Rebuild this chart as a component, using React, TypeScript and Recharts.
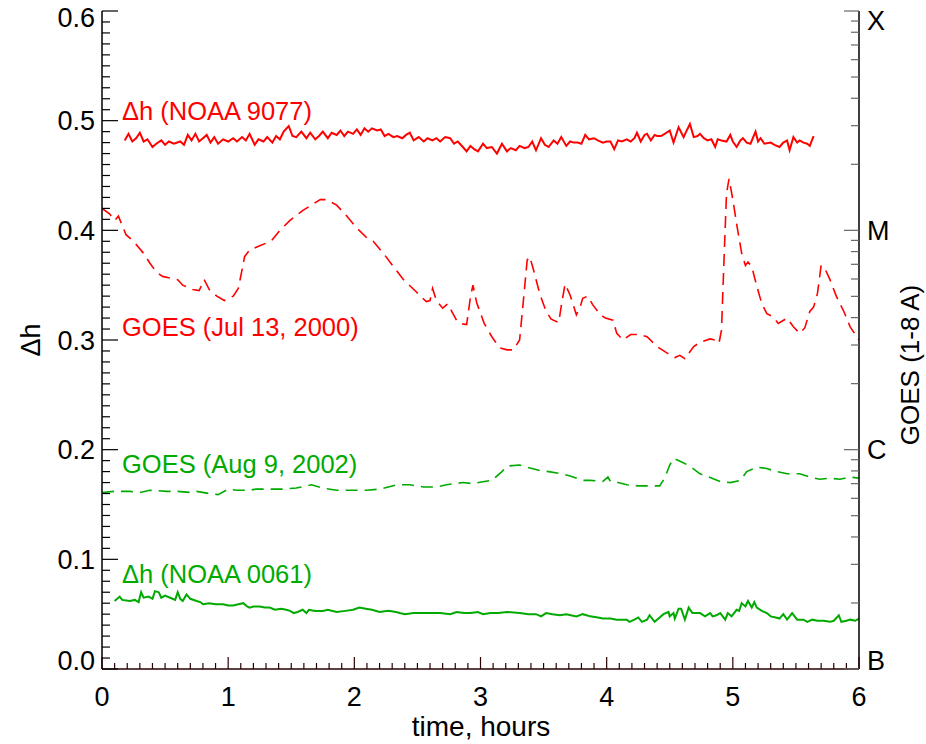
import { Line, LineChart, XAxis, YAxis } from "recharts"

const FONT = "'Liberation Sans', Arial, Helvetica, sans-serif"
const RED = "#ff0000"
const GREEN = "#00aa00"
const AXIS_DARK = "#2a0000"

// [time in hours, value]
const RED_DH: [number, number][] = [
  [0.18, 0.482], [0.21, 0.488], [0.24, 0.481], [0.27, 0.484], [0.3, 0.489], [0.33, 0.481], [0.36, 0.483],
  [0.4, 0.476], [0.43, 0.479], [0.47, 0.482], [0.5, 0.478], [0.53, 0.481], [0.57, 0.479], [0.62, 0.481],
  [0.65, 0.478], [0.68, 0.487], [0.71, 0.482], [0.74, 0.488], [0.77, 0.481], [0.8, 0.484], [0.83, 0.487],
  [0.86, 0.48], [0.89, 0.485], [0.92, 0.479], [0.96, 0.483], [1.0, 0.481], [1.04, 0.484], [1.07, 0.481],
  [1.11, 0.485], [1.14, 0.482], [1.17, 0.488], [1.21, 0.478], [1.24, 0.483], [1.28, 0.481], [1.31, 0.485],
  [1.35, 0.48], [1.38, 0.486], [1.41, 0.483], [1.44, 0.49], [1.48, 0.495], [1.51, 0.486], [1.54, 0.485],
  [1.58, 0.49], [1.62, 0.484], [1.65, 0.489], [1.69, 0.483], [1.72, 0.486], [1.75, 0.49], [1.79, 0.484],
  [1.82, 0.489], [1.86, 0.487], [1.89, 0.491], [1.92, 0.486], [1.95, 0.49], [1.99, 0.488], [2.02, 0.492],
  [2.05, 0.487], [2.08, 0.493], [2.11, 0.49], [2.14, 0.493], [2.18, 0.491], [2.21, 0.492], [2.24, 0.486],
  [2.27, 0.488], [2.31, 0.485], [2.34, 0.486], [2.38, 0.484], [2.41, 0.487], [2.44, 0.489], [2.47, 0.482],
  [2.51, 0.485], [2.55, 0.481], [2.58, 0.484], [2.62, 0.482], [2.65, 0.484], [2.68, 0.481], [2.72, 0.485],
  [2.76, 0.484], [2.79, 0.479], [2.82, 0.481], [2.86, 0.476], [2.89, 0.472], [2.92, 0.477], [2.95, 0.474],
  [2.98, 0.472], [3.02, 0.479], [3.05, 0.475], [3.09, 0.476], [3.13, 0.47], [3.17, 0.479], [3.21, 0.472],
  [3.24, 0.475], [3.28, 0.473], [3.31, 0.477], [3.35, 0.475], [3.38, 0.476], [3.41, 0.481], [3.44, 0.473],
  [3.48, 0.484], [3.51, 0.478], [3.54, 0.476], [3.58, 0.482], [3.61, 0.479], [3.64, 0.485], [3.68, 0.477],
  [3.71, 0.481], [3.74, 0.48], [3.77, 0.48], [3.8, 0.479], [3.83, 0.487], [3.86, 0.483], [3.9, 0.484],
  [3.93, 0.482], [3.97, 0.48], [4.0, 0.481], [4.03, 0.481], [4.06, 0.474], [4.09, 0.482], [4.12, 0.481],
  [4.16, 0.483], [4.19, 0.481], [4.22, 0.484], [4.24, 0.489], [4.27, 0.481], [4.3, 0.487], [4.32, 0.488],
  [4.35, 0.482], [4.38, 0.487], [4.4, 0.486], [4.43, 0.486], [4.46, 0.488], [4.5, 0.491], [4.53, 0.48],
  [4.57, 0.494], [4.61, 0.485], [4.63, 0.49], [4.66, 0.497], [4.69, 0.485], [4.72, 0.486], [4.74, 0.488],
  [4.77, 0.484], [4.8, 0.482], [4.83, 0.483], [4.86, 0.476], [4.88, 0.483], [4.91, 0.482], [4.95, 0.481],
  [4.98, 0.487], [5.0, 0.481], [5.03, 0.476], [5.06, 0.482], [5.08, 0.484], [5.11, 0.48], [5.14, 0.479],
  [5.18, 0.49], [5.2, 0.481], [5.22, 0.484], [5.25, 0.479], [5.3, 0.48], [5.33, 0.478], [5.37, 0.476],
  [5.4, 0.48], [5.43, 0.482], [5.45, 0.473], [5.48, 0.485], [5.51, 0.48], [5.53, 0.482], [5.56, 0.48],
  [5.59, 0.479], [5.61, 0.477], [5.64, 0.486],
]

const RED_GOES: [number, number][] = [
  [0.0, 0.42], [0.06, 0.415], [0.1, 0.409], [0.13, 0.413], [0.19, 0.396], [0.25, 0.39], [0.33, 0.379],
  [0.38, 0.37], [0.43, 0.362], [0.48, 0.358], [0.56, 0.356], [0.6, 0.355], [0.64, 0.35], [0.72, 0.346],
  [0.77, 0.345], [0.81, 0.355], [0.85, 0.346], [0.91, 0.34], [0.97, 0.336], [1.04, 0.34], [1.08, 0.347],
  [1.11, 0.364], [1.13, 0.376], [1.17, 0.382], [1.25, 0.386], [1.34, 0.39], [1.41, 0.4], [1.49, 0.409],
  [1.59, 0.418], [1.73, 0.428], [1.78, 0.428], [1.86, 0.423], [1.94, 0.413], [2.02, 0.402], [2.1, 0.393],
  [2.15, 0.39], [2.23, 0.379], [2.31, 0.367], [2.39, 0.355], [2.49, 0.344], [2.57, 0.335], [2.6, 0.336],
  [2.62, 0.347], [2.65, 0.336], [2.7, 0.329], [2.74, 0.333], [2.81, 0.318], [2.84, 0.315], [2.89, 0.314],
  [2.92, 0.339], [2.94, 0.35], [2.97, 0.334], [3.03, 0.315], [3.09, 0.303], [3.15, 0.293], [3.21, 0.291],
  [3.26, 0.291], [3.31, 0.3], [3.34, 0.336], [3.37, 0.373], [3.39, 0.376], [3.42, 0.364], [3.47, 0.342],
  [3.52, 0.326], [3.56, 0.319], [3.62, 0.316], [3.64, 0.331], [3.67, 0.351], [3.71, 0.341], [3.76, 0.323],
  [3.79, 0.33], [3.81, 0.338], [3.85, 0.34], [3.89, 0.332], [3.95, 0.323], [3.99, 0.32], [4.05, 0.318],
  [4.08, 0.306], [4.13, 0.3], [4.19, 0.305], [4.26, 0.305], [4.32, 0.303], [4.4, 0.294], [4.48, 0.288],
  [4.54, 0.284], [4.58, 0.286], [4.62, 0.283], [4.69, 0.294], [4.74, 0.298], [4.82, 0.301], [4.86, 0.3],
  [4.89, 0.297], [4.91, 0.309], [4.93, 0.373], [4.95, 0.434], [4.97, 0.447], [5.0, 0.428], [5.03, 0.406],
  [5.07, 0.379], [5.1, 0.368], [5.12, 0.371], [5.15, 0.367], [5.19, 0.349], [5.23, 0.333], [5.27, 0.324],
  [5.32, 0.321], [5.36, 0.315], [5.43, 0.32], [5.48, 0.312], [5.53, 0.306], [5.57, 0.311], [5.61, 0.326],
  [5.64, 0.33], [5.67, 0.342], [5.7, 0.368], [5.73, 0.365], [5.77, 0.355], [5.82, 0.34], [5.88, 0.326],
  [5.93, 0.312], [6.0, 0.3],
]

const GREEN_GOES: [number, number][] = [
  [0.0, 0.161], [0.1, 0.162], [0.22, 0.162], [0.3, 0.161], [0.38, 0.163], [0.51, 0.162], [0.6, 0.162],
  [0.7, 0.161], [0.75, 0.162], [0.85, 0.16], [0.92, 0.159], [1.0, 0.164], [1.07, 0.163], [1.17, 0.163],
  [1.22, 0.164], [1.33, 0.164], [1.43, 0.164], [1.54, 0.165], [1.66, 0.168], [1.75, 0.165], [1.86, 0.163],
  [1.96, 0.163], [2.1, 0.163], [2.2, 0.164], [2.34, 0.168], [2.44, 0.168], [2.55, 0.166], [2.65, 0.166],
  [2.73, 0.168], [2.86, 0.17], [2.94, 0.169], [3.03, 0.171], [3.09, 0.172], [3.17, 0.18], [3.21, 0.185],
  [3.31, 0.186], [3.37, 0.184], [3.47, 0.181], [3.54, 0.18], [3.64, 0.178], [3.71, 0.176], [3.81, 0.172],
  [3.87, 0.172], [3.97, 0.171], [4.01, 0.175], [4.03, 0.171], [4.09, 0.17], [4.16, 0.168], [4.25, 0.167],
  [4.34, 0.167], [4.42, 0.167], [4.46, 0.174], [4.5, 0.186], [4.53, 0.192], [4.59, 0.189], [4.66, 0.185],
  [4.74, 0.178], [4.81, 0.175], [4.9, 0.171], [4.98, 0.17], [5.06, 0.172], [5.11, 0.18], [5.19, 0.184],
  [5.26, 0.183], [5.35, 0.18], [5.43, 0.178], [5.53, 0.178], [5.61, 0.175], [5.69, 0.173], [5.76, 0.174],
  [5.85, 0.173], [5.93, 0.175], [6.0, 0.174],
]

const GREEN_DH: [number, number][] = [
  [0.1, 0.062], [0.14, 0.066], [0.16, 0.063], [0.22, 0.062], [0.26, 0.063], [0.29, 0.061], [0.31, 0.07],
  [0.33, 0.065], [0.37, 0.066], [0.4, 0.064], [0.42, 0.071], [0.45, 0.07], [0.47, 0.065], [0.5, 0.067],
  [0.54, 0.065], [0.58, 0.063], [0.6, 0.07], [0.62, 0.064], [0.64, 0.062], [0.67, 0.068], [0.7, 0.064],
  [0.75, 0.062], [0.78, 0.061], [0.8, 0.059], [0.85, 0.06], [0.9, 0.059], [0.96, 0.059], [1.0, 0.058],
  [1.04, 0.058], [1.08, 0.059], [1.12, 0.06], [1.15, 0.057], [1.17, 0.056], [1.2, 0.057], [1.25, 0.057],
  [1.29, 0.056], [1.33, 0.056], [1.37, 0.054], [1.42, 0.055], [1.46, 0.054], [1.49, 0.053], [1.52, 0.051],
  [1.55, 0.052], [1.59, 0.054], [1.62, 0.051], [1.64, 0.054], [1.69, 0.053], [1.75, 0.053], [1.79, 0.054],
  [1.86, 0.052], [1.93, 0.053], [1.99, 0.054], [2.04, 0.056], [2.09, 0.055], [2.14, 0.054], [2.2, 0.052],
  [2.27, 0.053], [2.33, 0.052], [2.36, 0.051], [2.4, 0.05], [2.47, 0.051], [2.55, 0.051], [2.62, 0.051],
  [2.68, 0.051], [2.76, 0.05], [2.81, 0.052], [2.87, 0.051], [2.92, 0.051], [2.98, 0.052], [3.02, 0.05],
  [3.08, 0.051], [3.14, 0.051], [3.21, 0.052], [3.31, 0.051], [3.38, 0.05], [3.44, 0.05], [3.48, 0.048],
  [3.52, 0.051], [3.57, 0.05], [3.63, 0.049], [3.68, 0.05], [3.76, 0.048], [3.81, 0.05], [3.87, 0.048],
  [3.93, 0.047], [3.97, 0.046], [4.03, 0.046], [4.08, 0.045], [4.13, 0.045], [4.16, 0.045], [4.18, 0.043],
  [4.22, 0.045], [4.25, 0.047], [4.28, 0.043], [4.32, 0.045], [4.34, 0.049], [4.38, 0.043], [4.42, 0.047],
  [4.45, 0.05], [4.49, 0.052], [4.5, 0.048], [4.53, 0.051], [4.54, 0.046], [4.57, 0.055], [4.59, 0.055],
  [4.62, 0.045], [4.65, 0.056], [4.68, 0.051], [4.74, 0.051], [4.78, 0.048], [4.82, 0.051], [4.84, 0.048],
  [4.87, 0.049], [4.9, 0.051], [4.94, 0.045], [4.96, 0.051], [4.99, 0.048], [5.03, 0.054], [5.05, 0.053],
  [5.07, 0.06], [5.1, 0.057], [5.12, 0.062], [5.15, 0.056], [5.17, 0.061], [5.19, 0.056], [5.23, 0.053],
  [5.27, 0.051], [5.3, 0.048], [5.34, 0.047], [5.37, 0.046], [5.4, 0.05], [5.43, 0.045], [5.47, 0.051],
  [5.51, 0.045], [5.56, 0.045], [5.59, 0.043], [5.63, 0.045], [5.67, 0.044], [5.72, 0.044], [5.77, 0.043],
  [5.8, 0.044], [5.84, 0.049], [5.86, 0.043], [5.9, 0.044], [5.93, 0.045], [5.97, 0.044], [6.0, 0.046],
]

// axes
const X_TICKS = Array.from({ length: 61 }, (_, i) => i / 10)
const LEFT_TICKS = Array.from({ length: 61 }, (_, i) => i / 100)
const GOES_DECADES = [-7, -6, -5, -4]
const GOES_CLASSES = ["B", "C", "M", "X"]
const RIGHT_TICKS = [
  ...GOES_DECADES.slice(0, 3).flatMap((d) => [1, 2, 3, 4, 5, 6, 7, 8, 9].map((k) => d + Math.log10(k))),
  -4,
]

const toRows = (pts: [number, number][]) => pts.map(([t, v]) => ({ t, v }))

const isWhole = (v: number, f: number) => Math.abs(v * f - Math.round(v * f)) < 1e-6

const TICK_FONT = 27

function LeftTick(props: any) {
  const { x, y, payload } = props
  const v = payload.value as number
  const major = isWhole(v, 10)
  let dy = 0
  if (v > 0.595) dy = 6
  if (v < 0.005) dy = -9
  return (
    <g>
      <line x1={x} x2={x + (major ? 16 : 8)} y1={y} y2={y} stroke="#000" strokeWidth={1.2} />
      {major && (
        <text x={x - 7} y={y + dy} dy="0.36em" textAnchor="end" fontSize={TICK_FONT} fontFamily={FONT} fill="#000">
          {v.toFixed(1)}
        </text>
      )}
    </g>
  )
}

function RightTick(props: any) {
  const { x, y, payload } = props
  const v = payload.value as number
  const major = isWhole(v, 1)
  const idx = GOES_DECADES.indexOf(Math.round(v))
  let dy = 0
  if (v > -4.01) dy = 9
  if (v < -6.99) dy = -9
  return (
    <g>
      <line x1={x} x2={x - (major ? 15 : 8)} y1={y} y2={y} stroke="#666" strokeWidth={1.2} />
      {major && (
        <text x={x + 8} y={y + dy} dy="0.36em" textAnchor="start" fontSize={TICK_FONT} fontFamily={FONT} fill="#000">
          {GOES_CLASSES[idx]}
        </text>
      )}
    </g>
  )
}

function BottomTick(props: any) {
  const { x, y, payload } = props
  const v = payload.value as number
  const major = isWhole(v, 1)
  return (
    <g>
      <line x1={x} x2={x} y1={y} y2={y - (major ? 12 : 6)} stroke={AXIS_DARK} strokeWidth={1.2} />
      {major && (
        <text x={x} y={y + 37} textAnchor="middle" fontSize={TICK_FONT} fontFamily={FONT} fill="#000">
          {Math.round(v)}
        </text>
      )}
    </g>
  )
}

function TopTick(props: any) {
  const { x, y, payload } = props
  const major = isWhole(payload.value as number, 1)
  return <line x1={x} x2={x} y1={y} y2={y + (major ? 13 : 6)} stroke={AXIS_DARK} strokeWidth={1.2} />
}

const note = (fill: string) => ({ fontSize: 25.5, fontFamily: FONT, fill })

export default function App() {
  return (
    <div style={{ width: 926, height: 744, background: "#fff" }}>
      <style>{"body{margin:0}"}</style>
      <LineChart width={926} height={744} margin={{ top: 11, right: 0, bottom: 0, left: 0 }}>
        <XAxis
          xAxisId="b"
          type="number"
          dataKey="t"
          domain={[0, 6]}
          ticks={X_TICKS}
          interval={0}
          height={75}
          tickSize={0}
          tickMargin={0}
          tick={BottomTick}
          axisLine={{ stroke: AXIS_DARK, strokeWidth: 1.5 }}
          allowDataOverflow
        />
        <XAxis
          xAxisId="top"
          orientation="top"
          type="number"
          dataKey="t"
          domain={[0, 6]}
          ticks={X_TICKS}
          interval={0}
          height={0}
          tickSize={0}
          tickMargin={0}
          tick={TopTick}
          axisLine={{ stroke: AXIS_DARK, strokeWidth: 1.5 }}
          allowDataOverflow
        />
        <YAxis
          yAxisId="l"
          type="number"
          domain={[0, 0.6]}
          ticks={LEFT_TICKS}
          interval={0}
          width={102}
          tickSize={0}
          tickMargin={0}
          tick={LeftTick}
          axisLine={{ stroke: "#000", strokeWidth: 1.5 }}
          allowDataOverflow
        />
        <YAxis
          yAxisId="r"
          orientation="right"
          type="number"
          domain={[-7, -4]}
          ticks={RIGHT_TICKS}
          interval={0}
          width={67}
          tickSize={0}
          tickMargin={0}
          tick={RightTick}
          axisLine={{ stroke: "#000", strokeWidth: 1.5 }}
          allowDataOverflow
        />
        <Line xAxisId="b" yAxisId="l" data={toRows(RED_DH)} dataKey="v" type="linear" stroke={RED} strokeWidth={2} dot={false} isAnimationActive={false} />
        <Line xAxisId="b" yAxisId="l" data={toRows(RED_GOES)} dataKey="v" type="linear" stroke={RED} strokeWidth={1.6} strokeDasharray="12 7" dot={false} isAnimationActive={false} />
        <Line xAxisId="b" yAxisId="l" data={toRows(GREEN_GOES)} dataKey="v" type="linear" stroke={GREEN} strokeWidth={1.6} strokeDasharray="12 7" dot={false} isAnimationActive={false} />
        <Line xAxisId="b" yAxisId="l" data={toRows(GREEN_DH)} dataKey="v" type="linear" stroke={GREEN} strokeWidth={2} dot={false} isAnimationActive={false} />

        <text x={122} y={120} {...note(RED)}>Δh (NOAA 9077)</text>
        <text x={122} y={336} {...note(RED)}>GOES (Jul 13, 2000)</text>
        <text x={122} y={473} {...note(GREEN)}>GOES (Aug 9, 2002)</text>
        <text x={122} y={583} {...note(GREEN)}>Δh (NOAA 0061)</text>

        <text x={30} y={340} transform="rotate(-90 30 340)" textAnchor="middle" dy="0.36em" fontSize={27} fontFamily={FONT} fill="#000">Δh</text>
        <text x={910} y={365} transform="rotate(-90 910 365)" textAnchor="middle" dy="0.36em" fontSize={26} fontFamily={FONT} fill="#000">GOES (1-8 A)</text>
        <text x={481} y={736} textAnchor="middle" fontSize={28} fontFamily={FONT} fill="#000">time, hours</text>
      </LineChart>
    </div>
  )
}
